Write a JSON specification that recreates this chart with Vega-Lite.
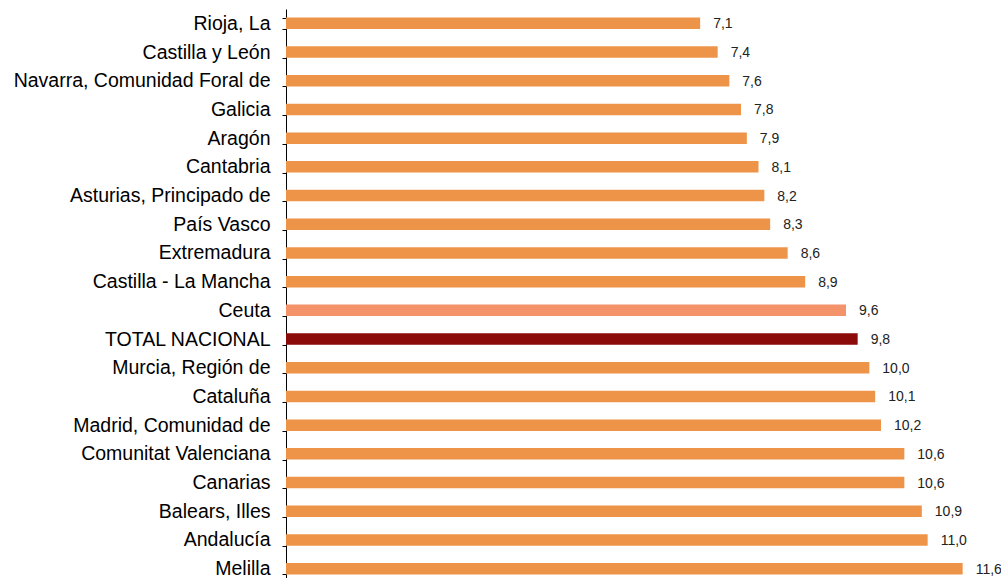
{
  "$schema": "https://vega.github.io/schema/vega-lite/v6.json",
  "width": 700,
  "height": 574,
  "autosize": "none",
  "padding": {"left": 286, "top": 9, "right": 15, "bottom": 0},
  "config": {
    "view": {"stroke": null},
    "locale": {"number": {"decimal": ",", "thousands": ".", "grouping": [3], "currency": ["", " €"]}}
  },
  "data": {
    "values": [
      {"region": "Rioja, La", "value": 7.1, "kind": "region"},
      {"region": "Castilla y León", "value": 7.4, "kind": "region"},
      {"region": "Navarra, Comunidad Foral de", "value": 7.6, "kind": "region"},
      {"region": "Galicia", "value": 7.8, "kind": "region"},
      {"region": "Aragón", "value": 7.9, "kind": "region"},
      {"region": "Cantabria", "value": 8.1, "kind": "region"},
      {"region": "Asturias, Principado de", "value": 8.2, "kind": "region"},
      {"region": "País Vasco", "value": 8.3, "kind": "region"},
      {"region": "Extremadura", "value": 8.6, "kind": "region"},
      {"region": "Castilla - La Mancha", "value": 8.9, "kind": "region"},
      {"region": "Ceuta", "value": 9.6, "kind": "ceuta"},
      {"region": "TOTAL NACIONAL", "value": 9.8, "kind": "total"},
      {"region": "Murcia, Región de", "value": 10.0, "kind": "region"},
      {"region": "Cataluña", "value": 10.1, "kind": "region"},
      {"region": "Madrid, Comunidad de", "value": 10.2, "kind": "region"},
      {"region": "Comunitat Valenciana", "value": 10.6, "kind": "region"},
      {"region": "Canarias", "value": 10.6, "kind": "region"},
      {"region": "Balears, Illes", "value": 10.9, "kind": "region"},
      {"region": "Andalucía", "value": 11.0, "kind": "region"},
      {"region": "Melilla", "value": 11.6, "kind": "region"}
    ]
  },
  "encoding": {
    "y": {
      "field": "region",
      "type": "nominal",
      "sort": null,
      "scale": {"paddingInner": 0.6, "paddingOuter": 0.3},
      "axis": {
        "title": null,
        "tickBand": "extent",
        "domainColor": "#000000",
        "domainWidth": 1,
        "tickColor": "#000000",
        "tickSize": 4,
        "labelFont": "Liberation Sans",
        "labelFontSize": 19.5,
        "labelColor": "#000000",
        "labelPadding": 12,
        "labelLimit": 400
      }
    },
    "x": {
      "field": "value",
      "type": "quantitative",
      "scale": {"domain": [0, 12], "nice": false},
      "axis": null
    }
  },
  "layer": [
    {
      "mark": {"type": "bar"},
      "encoding": {
        "color": {
          "field": "kind",
          "type": "nominal",
          "scale": {"domain": ["region", "ceuta", "total"], "range": ["#EE9448", "#F4926A", "#8B0A0A"]},
          "legend": null
        }
      }
    },
    {
      "mark": {"type": "text", "align": "left", "dx": 13, "dy": 1, "font": "Liberation Sans", "fontSize": 14, "color": "#222222"},
      "encoding": {
        "text": {"field": "value", "type": "quantitative", "format": ".1f"}
      }
    }
  ]
}
